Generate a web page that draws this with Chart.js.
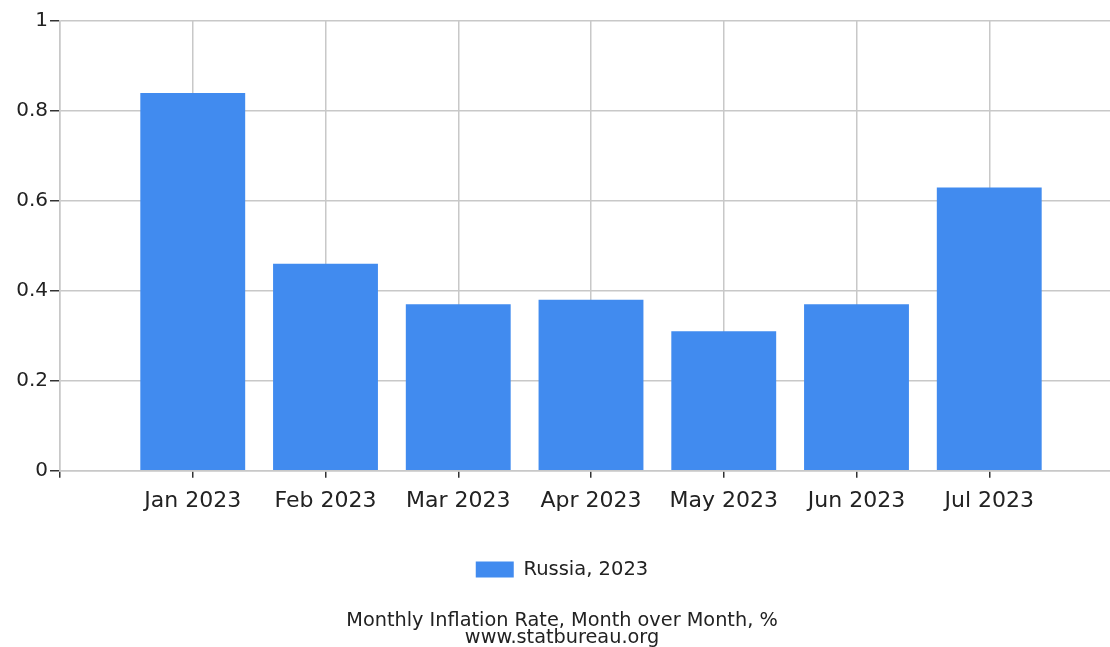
<!DOCTYPE html>
<html>
<head>
<meta charset="utf-8">
<script src="https://cdn.jsdelivr.net/npm/chart.js@4"></script>
<style>
  html, body { margin: 0; padding: 0; background: #fff; overflow: hidden; }
  #wrap { width: 1122px; height: 647px; }
</style>
</head>
<body>
<div id="wrap"><canvas id="inflChart" width="1122" height="647"></canvas></div>
<script>
const months = ["Jan 2023", "Feb 2023", "Mar 2023", "Apr 2023", "May 2023", "Jun 2023", "Jul 2023"];
const russia2023 = [0.84, 0.46, 0.37, 0.38, 0.31, 0.37, 0.63];
const yTicks = [0, 0.2, 0.4, 0.6, 0.8, 1];
const seriesName = "Russia, 2023";
const footer = ["Monthly Inflation Rate, Month over Month, %", "www.statbureau.org"];

// blank slots at both ends so the months sit on grid lines like the original
const labels = [""].concat(months, [""]);
const values = [null].concat(russia2023, [null]);

const font = "'DejaVu Sans', Verdana, sans-serif";
const textColor = "#222";
const gridColor = "#c8c8c8";

let ctx = document.getElementById("inflChart").getContext("2d");

let chart = new Chart(ctx, {
    type: "bar",
    data: {
        labels: labels,
        datasets: [{
            label: seriesName,
            data: values,
            backgroundColor: "#418bef",
            borderWidth: 0,
            categoryPercentage: 1,
            barPercentage: 0.79
        }]
    },
    options: {
        responsive: false,
        animation: false,
        layout: { padding: { top: 21, left: 2, right: 0, bottom: 0 } },
        scales: {
            x: {
                offset: false,
                grid: { offset: false, color: gridColor, tickColor: "#333", tickLength: 7, lineWidth: 1.5 },
                border: { color: gridColor, width: 1.5 },
                ticks: { color: textColor, font: { family: font, size: 22 }, maxRotation: 0, autoSkip: false, padding: 10 },
                afterFit: s => { s.height = 77; s.paddingLeft = 0; s.paddingRight = 0; }
            },
            y: {
                min: 0,
                max: 1,
                afterBuildTicks: s => { s.ticks = yTicks.map(v => ({ value: v })); },
                grid: { color: gridColor, tickColor: "#333", tickLength: 10, lineWidth: 1.5 },
                border: { color: gridColor, width: 1.5 },
                ticks: { color: textColor, font: { family: font, size: 20 }, padding: 2, callback: v => String(+v.toFixed(1)) },
                afterFit: s => { s.width = 58; }
            }
        },
        plugins: {
            legend: {
                position: "bottom",
                labels: { color: textColor, font: { family: font, size: 19.5 }, boxWidth: 38, boxHeight: 16, padding: 12 }
            },
            title: {
                display: true,
                position: "bottom",
                text: footer,
                color: textColor,
                font: { family: font, size: 19.3, weight: "normal", lineHeight: 0.9 },
                padding: { top: 23, bottom: 0 }
            },
            tooltip: { enabled: false }
        }
    }
});
</script>
</body>
</html>
